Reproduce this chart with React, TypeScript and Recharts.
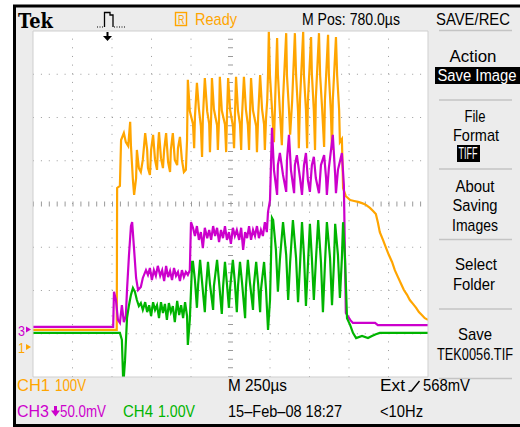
import React from 'react';
import { LineChart, Line, XAxis, YAxis, ReferenceLine } from 'recharts';

// Time in graticule divisions (250 µs/div), level in divisions above the bottom graticule line
const ch1Time = [0, 2.12, 2.13, 2.20, 2.23, 2.30, 2.35, 2.41, 2.46, 2.48, 2.53, 2.56, 2.61, 2.63, 2.68, 2.73, 2.78, 2.84, 2.89, 2.91, 2.96, 2.99, 3.04, 3.09, 3.14, 3.16, 3.19, 3.24, 3.29, 3.32, 3.37, 3.42, 3.47, 3.49, 3.54, 3.59, 3.65, 3.67, 3.72, 3.77, 3.82, 3.87, 3.90, 3.92,
  3.97, 4.05, 4.08, 4.10, 4.15, 4.20, 4.25, 4.28, 4.30, 4.35, 4.41, 4.46, 4.48, 4.51, 4.53, 4.58, 4.66, 4.68, 4.71, 4.73, 4.78, 4.86, 4.89, 4.91, 4.94, 4.99, 5.06, 5.09, 5.11, 5.14, 5.19, 5.24, 5.27, 5.29, 5.34, 5.39, 5.44, 5.47, 5.49, 5.52, 5.57, 5.65, 5.67, 5.70, 5.75, 5.80, 5.85, 5.87, 5.90, 5.93, 5.95, 5.97,
  6.00, 6.05, 6.10, 6.13, 6.18, 6.20, 6.25, 6.30, 6.33, 6.41, 6.43, 6.48, 6.51, 6.56, 6.63, 6.66, 6.71, 6.73, 6.76, 6.84, 6.86, 6.91, 6.94, 6.96, 7.04, 7.06, 7.11, 7.14, 7.16, 7.24, 7.27, 7.32, 7.37, 7.39, 7.47, 7.49, 7.54, 7.57, 7.59, 7.67, 7.70, 7.75, 7.77, 7.82, 7.85,
  7.92, 8.03, 8.13, 8.23, 8.33, 8.43, 8.53, 8.61, 8.68, 8.73, 8.78, 8.86, 8.94, 9.01, 9.09, 9.16, 9.24, 9.32, 9.39, 9.47, 9.54, 9.62, 9.70, 9.77, 9.85, 9.92, 10];
const ch1Level = [1.09, 1.09, 4.37, 4.42, 5.48, 5.64, 5.43, 5.34, 5.90, 5.34, 4.55, 4.21, 4.60, 5.25, 4.83, 4.74, 5.02, 5.64, 5.25, 4.83, 4.67, 5.25, 5.60, 5.02, 4.79, 5.25, 5.66, 5.06, 4.83, 5.25, 5.64, 4.97, 4.74, 5.25, 5.64, 5.02, 4.90, 5.29, 5.55, 5.02, 4.74, 4.79, 5.48, 6.87,
  6.15, 5.85, 5.29, 6.02, 6.80, 6.20, 5.80, 5.09, 5.97, 6.91, 6.14, 5.86, 5.20, 6.01, 6.91, 6.19, 5.82, 5.25, 5.98, 6.94, 6.16, 5.84, 5.20, 6.03, 6.91, 6.18, 5.81, 5.29, 5.96, 6.94, 6.15, 5.85, 5.25, 6.00, 6.94, 6.19, 5.83, 5.25, 5.97, 6.91, 6.16, 5.80, 5.20, 6.02, 6.98, 6.18, 5.84, 5.25, 5.99, 6.40, 7.00, 7.98,
  6.95, 6.20, 5.43, 6.38, 7.84, 7.00, 6.15, 5.36, 6.42, 7.95, 6.96, 6.19, 5.60, 6.37, 7.95, 6.99, 6.14, 5.29, 6.41, 7.98, 6.97, 6.18, 5.29, 6.39, 7.86, 7.01, 6.16, 5.25, 6.43, 7.95, 6.96, 6.20, 5.32, 6.38, 7.91, 6.99, 6.15, 5.25, 6.40, 7.86, 6.97, 6.18, 5.43, 5.50, 4.37,
  4.18, 4.09, 4.07, 4.05, 4.02, 3.98, 3.91, 3.84, 3.77, 3.58, 3.35, 3.17, 2.98, 2.82, 2.66, 2.47, 2.31, 2.15, 2.01, 1.90, 1.78, 1.69, 1.60, 1.50, 1.43, 1.36, 1.32];

const ch3Time = [0, 2.03, 2.05, 2.10, 2.15, 2.20, 2.25, 2.30, 2.35, 2.38, 2.43, 2.48, 2.51, 2.56, 2.61, 2.66, 2.73, 2.78, 2.86, 2.91, 2.96, 3.01, 3.06, 3.11, 3.16, 3.22, 3.27, 3.32, 3.37, 3.42, 3.47, 3.52, 3.57, 3.62, 3.67, 3.72, 3.77, 3.82, 3.87, 3.92, 3.97, 4.00, 4.05, 4.10, 4.15, 4.20, 4.25, 4.30, 4.35, 4.41, 4.46, 4.51, 4.56, 4.61, 4.66, 4.71, 4.76, 4.81, 4.86, 4.91, 4.96, 5.01, 5.06, 5.11, 5.16, 5.22, 5.27, 5.32, 5.37, 5.42, 5.47, 5.52, 5.57, 5.62, 5.67, 5.72, 5.77, 5.82, 5.87, 5.92, 5.95, 6.00, 6.05, 6.10, 6.18, 6.20, 6.25, 6.33, 6.41, 6.43, 6.48, 6.53, 6.61, 6.63, 6.68, 6.76, 6.81, 6.86, 6.91, 6.96, 7.01, 7.06, 7.11, 7.16, 7.24, 7.29, 7.37, 7.42, 7.44, 7.49, 7.59, 7.65, 7.67, 7.72, 7.82, 7.87, 7.92, 8.03, 8.10, 8.66, 8.73, 10];
const ch3Level = [1.16, 1.16, 1.97, 1.78, 1.32, 1.25, 1.66, 1.27, 1.41, 2.01, 2.82, 3.49, 3.58, 2.94, 2.29, 2.01, 2.08, 2.29, 2.47, 2.36, 2.52, 2.24, 2.47, 2.34, 2.57, 2.34, 2.47, 2.22, 2.57, 2.31, 2.45, 2.24, 2.52, 2.34, 2.43, 2.22, 2.47, 2.31, 2.43, 2.36, 2.47, 3.58, 3.45, 3.26, 3.49, 3.17, 3.35, 2.98, 3.45, 3.21, 3.40, 3.17, 3.49, 3.26, 3.45, 3.12, 3.40, 3.21, 3.49, 3.17, 3.35, 3.08, 3.45, 3.26, 3.40, 3.17, 3.45, 2.94, 3.35, 3.21, 3.49, 3.17, 3.40, 3.26, 3.49, 3.21, 3.40, 3.26, 3.58, 3.35, 3.82, 4.09, 5.76, 4.79, 4.21, 4.90, 5.18, 4.67, 4.28, 5.02, 5.60, 4.79, 4.25, 4.90, 5.13, 4.60, 4.21, 4.90, 5.18, 4.55, 4.28, 4.90, 5.09, 4.60, 4.25, 4.90, 5.13, 4.60, 4.21, 4.83, 5.60, 4.67, 4.25, 4.79, 5.18, 4.44, 1.48, 1.32, 1.25, 1.25, 1.20, 1.20];

const ch4Time = [0, 2.20, 2.25, 2.28, 2.30, 2.33, 2.38, 2.43, 2.48, 2.53, 2.58, 2.63, 2.68, 2.73, 2.78, 2.84, 2.89, 2.94, 2.99, 3.04, 3.09, 3.14, 3.19, 3.24, 3.29, 3.34, 3.39, 3.44, 3.49, 3.54, 3.59, 3.65, 3.70, 3.75, 3.80, 3.85, 3.90, 3.92, 3.97, 4.03, 4.05, 4.10, 4.15, 4.18, 4.23, 4.28, 4.35, 4.38, 4.43, 4.48, 4.56, 4.58, 4.66, 4.71, 4.78, 4.81, 4.86, 4.91, 4.96, 4.99, 5.06, 5.11, 5.16, 5.19, 5.24, 5.29, 5.37, 5.39, 5.44, 5.49, 5.57, 5.59, 5.65, 5.70, 5.75, 5.77, 5.85, 5.90, 5.95, 6.00, 6.05, 6.08, 6.15, 6.20, 6.25, 6.33, 6.41, 6.46, 6.51, 6.58, 6.66, 6.71, 6.76, 6.81, 6.86, 6.91, 6.96, 7.01, 7.06, 7.11, 7.16, 7.22, 7.29, 7.34, 7.39, 7.44, 7.52, 7.57, 7.62, 7.65, 7.72, 7.77, 7.82, 7.85, 7.90, 7.95, 8.03, 8.10, 8.18, 8.33, 8.48, 8.58, 8.68, 8.78, 10];
const ch4Level = [1.02, 1.02, 0.86, 0, 0, 0.39, 1.36, 1.66, 1.90, 2.06, 1.97, 1.78, 1.64, 1.71, 1.55, 1.73, 1.50, 1.66, 1.41, 1.73, 1.55, 1.66, 1.36, 1.73, 1.48, 1.69, 1.32, 1.71, 1.50, 1.64, 1.27, 1.76, 1.43, 1.66, 1.36, 1.73, 1.41, 0.74, 1.32, 2.66, 2.66, 2.24, 1.60, 2.13, 2.71, 2.20, 1.50, 2.06, 2.66, 2.15, 1.55, 2.10, 2.71, 2.20, 1.46, 2.06, 2.66, 2.15, 1.60, 2.06, 2.71, 2.20, 1.50, 2.10, 2.66, 2.20, 1.36, 2.06, 2.71, 2.20, 1.55, 2.10, 2.66, 2.15, 1.50, 2.01, 2.66, 2.01, 1.09, 1.78, 3.68, 3.63, 2.94, 1.97, 2.71, 3.58, 2.82, 1.78, 2.66, 3.63, 2.75, 1.73, 2.59, 3.58, 2.82, 1.64, 2.59, 3.54, 2.75, 1.78, 2.66, 3.63, 2.66, 1.50, 2.59, 3.58, 2.75, 1.66, 2.66, 3.54, 2.82, 1.83, 2.75, 3.58, 2.71, 1.36, 1.20, 1.02, 0.90, 0.95, 0.90, 0.95, 0.99, 1.02, 1.02];

const xGridDivs = [1, 2, 3, 4, 6, 7, 8, 9];
const yGridDivs = [1, 2, 3, 5, 6, 7];
const xMinorTicks = Array.from({ length: 51 }, (_, i) => Math.round(i * 2) / 10);
const yMinorTicks = Array.from({ length: 41 }, (_, i) => Math.round(i * 2) / 10);

const menuItems = [
  { label: 'Action', cx: 473, base: 62, w: 47, sx: 1.05 },
  { label: 'Save Image', cx: 477, base: 81, w: 79, sx: 0.92, inv: true, bx: 435, bw: 85 },
  { label: 'File', cx: 475, base: 122, w: 21, sx: 0.82 },
  { label: 'Format', cx: 476, base: 141, w: 46, sx: 0.9 },
  { label: 'TIFF', cx: 468, base: 159, w: 19, sx: 0.6, inv: true, bx: 457, bw: 23 },
  { label: 'About', cx: 475, base: 192, w: 39, sx: 0.93 },
  { label: 'Saving', cx: 475, base: 211, w: 45, sx: 0.92 },
  { label: 'Images', cx: 475, base: 231, w: 46, sx: 0.88 },
  { label: 'Select', cx: 476, base: 270, w: 42, sx: 0.94 },
  { label: 'Folder', cx: 474, base: 290, w: 42, sx: 0.93 },
  { label: 'Save', cx: 475, base: 340, w: 34, sx: 0.93 },
  { label: 'TEK0056.TIF', cx: 475, base: 360, w: 76, sx: 0.72 },
];
const menuSeparators = [30.5, 100, 169, 239.5, 309, 378.5];

const ORANGE = '#FFA500';
const MAGENTA = '#CC00CC';
const GREEN = '#00B400';
const FONT = "'Liberation Sans', Arial, sans-serif";

const toPoints = (t: number[], v: number[]) => t.map((x, i) => ({ t: x, v: v[i] }));
const ch1Data = toPoints(ch1Time, ch1Level);
const ch3Data = toPoints(ch3Time, ch3Level);
const ch4Data = toPoints(ch4Time, ch4Level);

const Tx = ({ x, y, w, sx = 1, fill = '#000', size = 16, children }: any) => (
  <text
    transform={`translate(${x} ${y}) scale(${sx} 1)`}
    textLength={w / sx}
    lengthAdjust="spacingAndGlyphs"
    fontSize={size}
    fill={fill}
    fontFamily={FONT}
  >
    {children}
  </text>
);

export default function App() {
  return (
    <div style={{ position: 'absolute', left: 0, top: 0, width: 520, height: 427, overflow: 'hidden', background: '#fff' }}>
      <svg width={520} height={427} style={{ position: 'absolute', left: 0, top: 0 }}>
        <rect x={14.5} y={6} width={520} height={419.5} fill="#ececec" stroke="#000" strokeWidth={3} />
        <rect x={33} y={31} width={395} height={346} fill="#fff" />
        {/* header */}
        <text x={18} y={28} textLength={35} lengthAdjust="spacingAndGlyphs" fontSize={21} fontWeight="bold" fontFamily="'DejaVu Serif', serif" fill="#000">Tek</text>
        <path d="M97 27 H104" stroke="#000" strokeWidth={1.2} strokeDasharray="1 1.5" />
        <path d="M104.5 27 V12.5 H110 V15 H113 V27" stroke="#000" strokeWidth={1.3} fill="none" />
        <path d="M114 27 H125" stroke="#000" strokeWidth={1.2} strokeDasharray="1 1.5" />
        <rect x={175.5} y={12.5} width={11} height={13} fill="none" stroke={ORANGE} strokeWidth={1.4} />
        <Tx x={178} y={23.5} w={6.5} sx={0.75} size={12} fill={ORANGE}>R</Tx>
        <Tx x={195} y={25} w={42} sx={0.91} fill={ORANGE}>Ready</Tx>
        <Tx x={302} y={25} w={98} sx={0.88}>M Pos: 780.0µs</Tx>
        <Tx x={436} y={25} w={74} sx={0.915}>SAVE/REC</Tx>
        {/* trigger position marker */}
        <rect x={106.5} y={32} width={2} height={4} fill="#000" />
        <path d="M103 36 L112 36 L107.5 41 Z" fill="#000" />
        {/* channel ground markers */}
        <Tx x={18} y={336} w={7} sx={0.84} size={15} fill={MAGENTA}>3</Tx>
        <path d="M26 326.5 L31 329.5 L26 332.5 Z" fill={MAGENTA} />
        <Tx x={18} y={353} w={7} sx={0.84} size={15} fill={ORANGE}>1</Tx>
        <path d="M26 344 L31 347 L26 350 Z" fill={ORANGE} />
        {/* menu */}
        {menuSeparators.map((y) => (
          <line key={y} x1={439} x2={512} y1={y} y2={y} stroke="#c4c4c4" strokeWidth={1.5} />
        ))}
        {menuItems.map((m) => (
          <g key={m.label}>
            {m.inv && <rect x={m.bx} y={m.base - 14} width={m.bw} height={17} fill="#000" />}
            <Tx x={m.cx - m.w / 2} y={m.base} w={m.w} sx={m.sx} size={16} fill={m.inv ? '#fff' : '#000'}>{m.label}</Tx>
          </g>
        ))}
        {/* status lines */}
        <Tx x={17} y={391} w={33} sx={1.0} fill={ORANGE}>CH1</Tx>
        <Tx x={55} y={391} w={31} sx={0.83} fill={ORANGE}>100V</Tx>
        <Tx x={228} y={391} w={59} sx={0.95}>M 250µs</Tx>
        <Tx x={380} y={391} w={25} sx={1.0}>Ext</Tx>
        <path d="M408.5 391 H411.5 L419.5 381" stroke="#000" strokeWidth={1.4} fill="none" />
        <Tx x={423} y={391} w={47} sx={0.93}>568mV</Tx>
        <Tx x={17} y={417} w={32} sx={1.0} fill={MAGENTA}>CH3</Tx>
        <rect x={54} y={406} width={3} height={5} fill={MAGENTA} />
        <path d="M51 410.5 L60 410.5 L55.5 416.5 Z" fill={MAGENTA} />
        <Tx x={60} y={417} w={46} sx={0.835} fill={MAGENTA}>50.0mV</Tx>
        <Tx x={123} y={417} w={30} sx={0.94} fill={GREEN}>CH4</Tx>
        <Tx x={158} y={417} w={37} sx={0.885} fill={GREEN}>1.00V</Tx>
        <Tx x={228} y={417} w={114} sx={0.9}>15–Feb–08 18:27</Tx>
        <Tx x={380} y={417} w={43} sx={0.92}>&lt;10Hz</Tx>
      </svg>
      <div style={{ position: 'absolute', left: 0, top: 0 }}>
        <LineChart width={520} height={427} margin={{ top: 31, left: 33, right: 92, bottom: 50 }}>
          <XAxis xAxisId={0} type="number" dataKey="t" domain={[0, 10]} allowDataOverflow orientation="bottom" mirror ticks={xMinorTicks} interval={0} tick={false} tickSize={4} axisLine={{ stroke: '#cfcfcf' }} tickLine={{ stroke: '#9a9a9a' }} />
          <XAxis xAxisId="top" type="number" dataKey="t" domain={[0, 10]} allowDataOverflow orientation="top" mirror ticks={xMinorTicks} interval={0} tick={false} tickSize={4} axisLine={{ stroke: '#cfcfcf' }} tickLine={{ stroke: '#9a9a9a' }} />
          <YAxis yAxisId={0} type="number" domain={[0, 8]} allowDataOverflow orientation="left" mirror ticks={yMinorTicks} interval={0} tick={false} tickSize={4} axisLine={{ stroke: '#cfcfcf' }} tickLine={{ stroke: '#9a9a9a' }} />
          <YAxis yAxisId="right" type="number" domain={[0, 8]} allowDataOverflow orientation="right" mirror ticks={yMinorTicks} interval={0} tick={false} tickSize={4} axisLine={{ stroke: '#cfcfcf' }} tickLine={{ stroke: '#9a9a9a' }} />
          {xGridDivs.map((d) => (
            <ReferenceLine key={'x' + d} x={d} stroke="#9a9a9a" strokeWidth={1} strokeDasharray="1 7.65" />
          ))}
          {yGridDivs.map((d) => (
            <ReferenceLine key={'y' + d} y={d} stroke="#9a9a9a" strokeWidth={1} strokeDasharray="1 6.9" />
          ))}
          <ReferenceLine x={5} stroke="#9a9a9a" strokeWidth={5} strokeDasharray="1 7.65" />
          <ReferenceLine y={4} stroke="#9a9a9a" strokeWidth={5} strokeDasharray="1 6.9" />
          <Line data={ch1Data} dataKey="v" type="linear" stroke={ORANGE} strokeWidth={2.2} dot={false} activeDot={false} isAnimationActive={false} />
          <Line data={ch3Data} dataKey="v" type="linear" stroke={MAGENTA} strokeWidth={2.2} dot={false} activeDot={false} isAnimationActive={false} />
          <Line data={ch4Data} dataKey="v" type="linear" stroke={GREEN} strokeWidth={2.2} dot={false} activeDot={false} isAnimationActive={false} />
        </LineChart>
      </div>
    </div>
  );
}
